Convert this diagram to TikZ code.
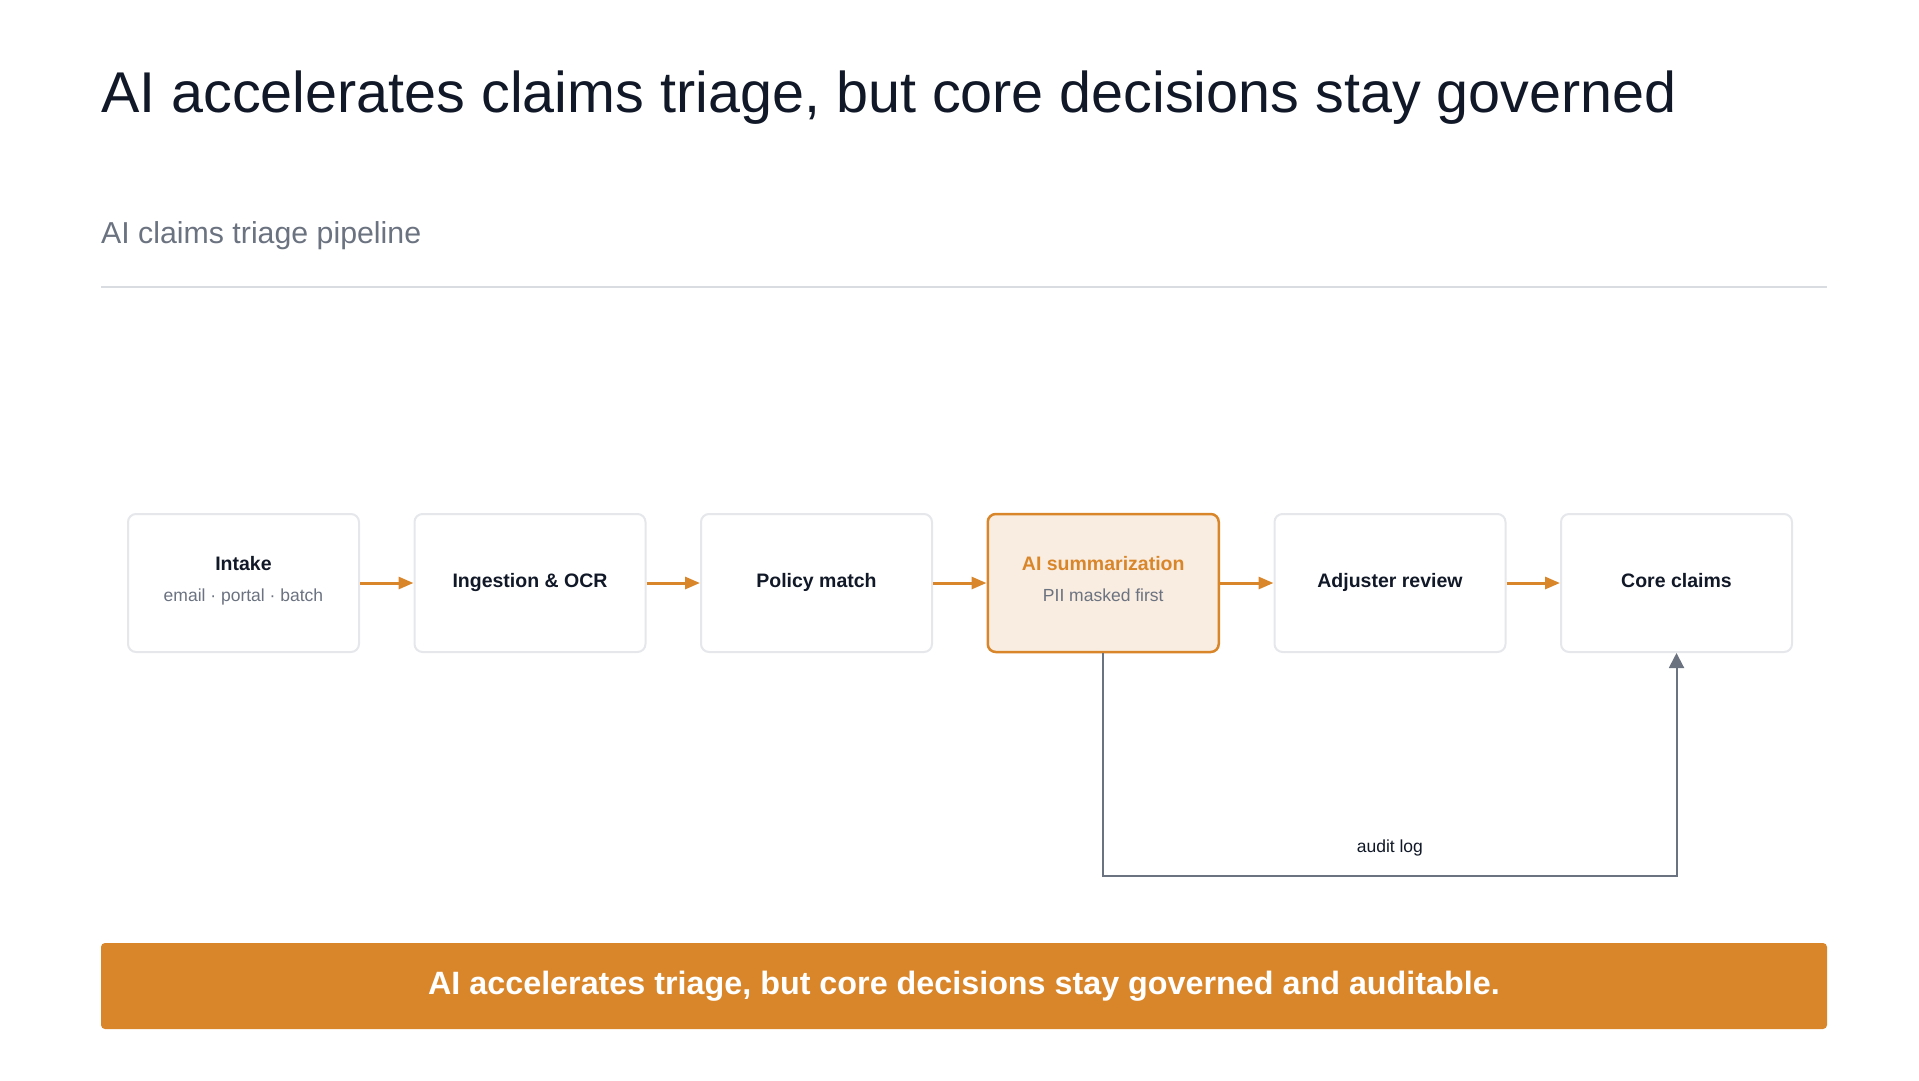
\documentclass[tikz,border=0pt]{standalone}
\usepackage{fontspec}
\setmainfont{Liberation Sans}
\usepackage{xcolor}
\usepackage{tikz}
\usetikzlibrary{arrows.meta, positioning}

\definecolor{ink}{HTML}{111827}
\definecolor{mute}{HTML}{6B7280}
\definecolor{edge}{HTML}{E5E7EB}
\definecolor{rulegray}{HTML}{D9DCE1}
\definecolor{accent}{HTML}{D9862A}
\definecolor{accentbg}{HTML}{F9ECE0}

\newcommand{\stagenote}[1]{{\fontsize{17.5}{21}\selectfont\mdseries\color{mute}#1\strut}}

\begin{document}
\begin{tikzpicture}[
  x=1pt, y=-1pt,
  stage/.style={draw=edge, line width=2pt, rectangle, rounded corners=8pt, fill=white,
    minimum width=231pt, minimum height=138pt, align=center, text=ink,
    font=\fontsize{19.5}{24}\selectfont\bfseries, execute at begin node=\strut},
  hot/.style={stage, draw=accent, line width=2.5pt, fill=accentbg, text=accent},
  flow/.style={-{Triangle[length=15pt, width=12pt]}, draw=accent, line width=3pt},
  audit/.style={-{Triangle[length=15pt, width=15pt]}, draw=mute, line width=2pt},
  banner/.style={rectangle, rounded corners=4pt, fill=accent, text=white,
    minimum width=1726pt, minimum height=86pt,
    font=\fontsize{32.3}{38}\selectfont\bfseries},
  node distance=53.5pt
]
\useasboundingbox (0,0) rectangle (1919,1080);

% heading
\node[anchor=base west, inner sep=0, text=ink, font=\fontsize{57.5}{64}\selectfont] (title) at (101,112)
  {AI accelerates claims triage, but core decisions stay governed};
\node[anchor=base west, inner sep=0, text=mute, font=\fontsize{30.3}{36}\selectfont] (subtitle) at (101,243)
  {AI claims triage pipeline};
\draw[rulegray, line width=2pt] (101,287) -- (1827,287);

% pipeline
\node[stage] (intake) at (243.5,583) {Intake\\[7pt]\stagenote{email · portal · batch}};
\node[stage, right=of intake] (ocr) {Ingestion \& OCR};
\node[stage, right=of ocr] (policy) {Policy match};
\node[hot, right=of policy] (summ) {AI summarization\\[7pt]\stagenote{PII masked first}};
\node[stage, right=of summ] (review) {Adjuster review};
\node[stage, right=of review] (core) {Core claims};

\draw[flow] (intake) -- (ocr);
\draw[flow] (ocr) -- (policy);
\draw[flow] (policy) -- (summ);
\draw[flow] (summ) -- (review);
\draw[flow] (review) -- (core);

\draw[audit] (summ.south) -- ++(0,223) -| node[pos=0.25, above=19pt, inner sep=0, text=ink,
  font=\fontsize{17.5}{21}\selectfont] (auditlbl) {audit log} (core.south);

% takeaway
\node[banner] (note) at (964,986) {AI accelerates triage, but core decisions stay governed and auditable.};
\end{tikzpicture}
\end{document}
